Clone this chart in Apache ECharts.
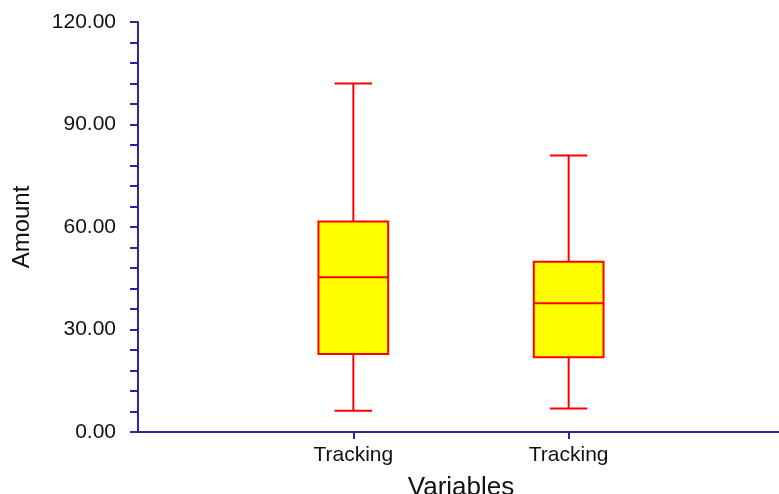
<!DOCTYPE html>
<html>
<head>
<meta charset="utf-8">
<script src="https://cdn.jsdelivr.net/npm/echarts@6/dist/echarts.min.js"></script>
<style>
html,body{margin:0;padding:0;background:#fff;}
#chart{width:779px;height:494px;}
</style>
</head>
<body>
<div id="chart"></div>
<script>
// Data
var categories = ['', 'Tracking', 'Tracking', ''];
var boxPositions = [1, 2];
var boxMin = [6.2, 6.9];
var boxQ1 = [22.8, 21.9];
var boxMedian = [45.3, 37.7];
var boxQ3 = [61.6, 49.8];
var boxMax = [102.0, 80.9];
var yTicks = [0, 30, 60, 90, 120];

var boxData = boxPositions.map(function (p, i) {
  return [p, boxMin[i], boxQ1[i], boxMedian[i], boxQ3[i], boxMax[i]];
});

var axisColor = '#2a2a96';
var textColor = '#111111';
var font = 'Liberation Sans, Arial, sans-serif';

function renderBox(params, api) {
  var x = api.value(0);
  var band = api.size([1, 0])[0];
  var half = band * 0.162;
  var capHalf = band * 0.087;
  var pMin = api.coord([x, api.value(1)]);
  var pQ1 = api.coord([x, api.value(2)]);
  var pMed = api.coord([x, api.value(3)]);
  var pQ3 = api.coord([x, api.value(4)]);
  var pMax = api.coord([x, api.value(5)]);
  var cx = pMed[0];
  var lineStyle = { stroke: '#ff0000', lineWidth: 2, fill: null };
  return {
    type: 'group',
    children: [
      { type: 'line', shape: { x1: cx, y1: pMax[1], x2: cx, y2: pQ3[1] }, style: lineStyle },
      { type: 'line', shape: { x1: cx, y1: pQ1[1], x2: cx, y2: pMin[1] }, style: lineStyle },
      { type: 'line', shape: { x1: cx - capHalf, y1: pMax[1], x2: cx + capHalf, y2: pMax[1] }, style: lineStyle },
      { type: 'line', shape: { x1: cx - capHalf, y1: pMin[1], x2: cx + capHalf, y2: pMin[1] }, style: lineStyle },
      { type: 'rect', shape: { x: cx - half, y: pQ3[1], width: half * 2, height: pQ1[1] - pQ3[1] },
        style: { fill: '#ffff00', stroke: '#ff0000', lineWidth: 2 } },
      { type: 'line', shape: { x1: cx - half, y1: pMed[1], x2: cx + half, y2: pMed[1] }, style: lineStyle }
    ]
  };
}

var chart = echarts.init(document.getElementById('chart'), null, { renderer: 'canvas' });
chart.setOption({
  animation: false,
  backgroundColor: '#ffffff',
  grid: { left: 138, right: -5, top: 22, bottom: 62, containLabel: false, outerBoundsMode: 'none' },
  xAxis: {
    type: 'category',
    data: categories,
    boundaryGap: false,
    name: 'Variables',
    nameLocation: 'middle',
    nameGap: 43,
    nameTextStyle: { color: textColor, fontSize: 26, fontFamily: font },
    axisLine: { show: true, lineStyle: { color: axisColor, width: 2 } },
    axisTick: {
      show: true, length: 7, inside: false,
      interval: function (index) { return index === 1 || index === 2; },
      lineStyle: { color: axisColor, width: 2 }
    },
    axisLabel: {
      interval: 0, margin: 13, color: textColor, fontSize: 21, fontFamily: font
    },
    splitLine: { show: false }
  },
  yAxis: {
    type: 'value',
    min: yTicks[0],
    max: yTicks[yTicks.length - 1],
    interval: 30,
    name: 'Amount',
    nameLocation: 'middle',
    nameGap: 104,
    nameRotate: 90,
    nameTextStyle: { color: textColor, fontSize: 24, fontFamily: font },
    axisLine: { show: true, lineStyle: { color: axisColor, width: 2 } },
    axisTick: { show: true, length: 8, lineStyle: { color: axisColor, width: 2 } },
    minorTick: { show: true, splitNumber: 5, length: 8, lineStyle: { color: axisColor, width: 2 } },
    axisLabel: {
      margin: 22, color: textColor, fontSize: 21, fontFamily: font,
      formatter: function (v) { return v.toFixed(2); }
    },
    splitLine: { show: false },
    minorSplitLine: { show: false }
  },
  series: [{
    type: 'custom',
    renderItem: renderBox,
    encode: { x: 0, y: [1, 2, 3, 4, 5] },
    data: boxData,
    clip: false
  }]
});
</script>
</body>
</html>
